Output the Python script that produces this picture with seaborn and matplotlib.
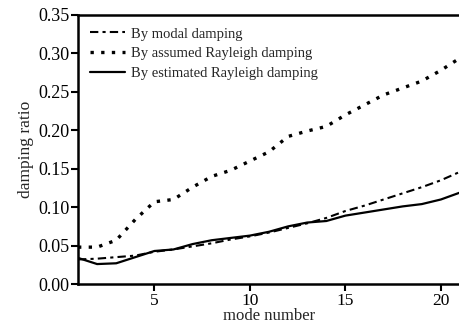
import numpy as np
import pandas as pd
import matplotlib
matplotlib.use("Agg")
import matplotlib.pyplot as plt
import seaborn as sns

modes = list(range(1, 22))
modal = [0.032, 0.033, 0.035, 0.037, 0.042, 0.045, 0.049, 0.053, 0.058, 0.062,
         0.067, 0.073, 0.079, 0.086, 0.095, 0.102, 0.110, 0.118, 0.126, 0.135, 0.146]
assumed = [0.048, 0.048, 0.057, 0.084, 0.107, 0.110, 0.126, 0.140, 0.148, 0.160,
           0.172, 0.192, 0.199, 0.205, 0.220, 0.233, 0.246, 0.255, 0.264, 0.278, 0.294]
estimated = [0.034, 0.026, 0.027, 0.035, 0.043, 0.045, 0.052, 0.057, 0.060, 0.063,
             0.068, 0.075, 0.080, 0.082, 0.089, 0.093, 0.097, 0.101, 0.104, 0.110, 0.119]
labels = ["By modal damping", "By assumed Rayleigh damping", "By estimated Rayleigh damping"]

sns.set_theme(style="ticks")
plt.rcParams['font.family'] = ['Liberation Serif', 'DejaVu Serif']

fig = plt.figure(figsize=(4.6, 3.25), dpi=100)
ax = fig.add_axes([0.1696, 0.126, 0.8304, 0.828])

styles = [(0, (4, 2, 1.5, 2)), (0, (1, 2.2)), "-"]
widths = [1.5, 2.4, 1.6]
for vals, lab, ls, lw in zip([modal, assumed, estimated], labels, styles, widths):
    df = pd.DataFrame({"mode": modes, "val": vals})
    sns.lineplot(data=df, x="mode", y="val", ax=ax, color="black", linestyle=ls,
                 linewidth=lw, label=lab)

ax.set_xlim(1, 21)
ax.set_ylim(0, 0.35)
ax.set_xticks([5, 10, 15, 20])
ax.set_yticks(np.arange(0, 0.351, 0.05))
ax.set_yticklabels([f"{v:.2f}" for v in np.arange(0, 0.351, 0.05)])
ax.tick_params(axis="both", direction="out", length=5, width=1.5, labelsize=13, colors="black", pad=1)
ax.tick_params(axis="x", length=5, pad=1.5, labelsize=12.5)
for s in ["left", "bottom", "top"]:
    ax.spines[s].set_visible(True)
    ax.spines[s].set_linewidth(1.8)
    ax.spines[s].set_color("black")
ax.spines["right"].set_visible(False)

ax.set_xlabel("mode number", fontsize=12, labelpad=-1)
ax.set_ylabel("damping ratio", fontsize=12.5, labelpad=3)

leg = ax.legend(loc="upper left", frameon=False, fontsize=10.5, handlelength=2.4,
                handletextpad=0.35, labelspacing=0.45, borderaxespad=0.45)

fig.savefig("out.png", dpi=100)
